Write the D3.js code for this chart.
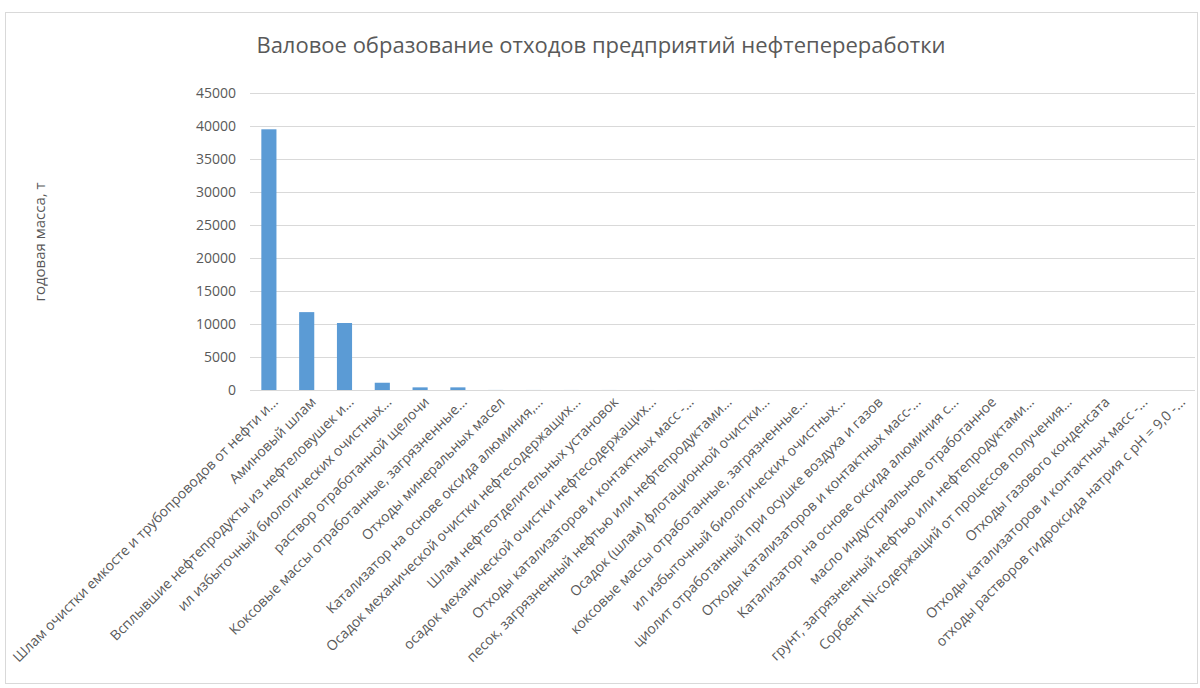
<!DOCTYPE html>
<html>
<head>
<meta charset="utf-8">
<script src="https://cdn.jsdelivr.net/npm/d3@7"></script>
<style>
    body { margin: 0; background: #fff; }
    text { font-family: "Open Sans", "Noto Sans", sans-serif; fill: #595959; }
</style>
</head>
<body>
<svg id="chart" width="1200" height="688"></svg>
<script>
// categories (labels as shown, truncated like the original)
var categories = [
    "Шлам очистки емкосте и трубопроводов от нефти и...",
    "Аминовый шлам",
    "Всплывшие нефтепродукты из нефтеловушек и...",
    "ил избыточный биологических очистных...",
    "раствор отработанной щелочи",
    "Коксовые массы отработанные, загрязненные...",
    "Отходы минеральных масел",
    "Катализатор на основе оксида алюминия,...",
    "Осадок механической очистки нефтесодержащих...",
    "Шлам нефтеотделительных установок",
    "осадок механической очистки нефтесодержащих...",
    "Отходы катализаторов и контактных масс -...",
    "песок, загрязненный нефтью или нефтепродуктами...",
    "Осадок (шлам) флотационной очистки...",
    "коксовые массы отработанные, загрязненные...",
    "ил избыточный биологических очистных...",
    "циолит отработанный при осушке воздуха и газов",
    "Отходы катализаторов и контактных масс-...",
    "Катализатор на основе оксида алюминия с...",
    "масло индустриальное отработанное",
    "грунт, загрязненный нефтью или нефтепродуктами...",
    "Сорбент Ni-содержащий от процессов получения...",
    "Отходы газового конденсата",
    "Отходы катализаторов и контактных масс -...",
    "отходы растворов гидроксида натрия с pH = 9,0 -..."
];
// годовая масса, т
var values = [39500, 11800, 10150, 1100, 400, 400, 8, 6, 5, 5, 4, 4, 3, 3, 2, 2, 2, 1, 1, 1, 1, 1, 1, 1, 1];
var yTicks = [0, 5000, 10000, 15000, 20000, 25000, 30000, 35000, 40000, 45000];

var svg = d3.select("#chart");
var plotLeft = 250, plotRight = 1195, plotTop = 93, plotBottom = 390;

// frame
svg.append("rect")
    .attr("x", 5.5).attr("y", 12.5)
    .attr("width", 1192).attr("height", 671)
    .attr("fill", "#fff").attr("stroke", "#d9d9d9");

var x = d3.scaleBand()
    .domain(d3.range(categories.length))
    .range([plotLeft, plotRight])
    .paddingInner(0.6)
    .paddingOuter(0.3);

var y = d3.scaleLinear()
    .domain([0, 45000])
    .range([plotBottom, plotTop]);

// grid lines
svg.append("g").selectAll("line")
    .data(yTicks)
    .enter().append("line")
    .attr("x1", plotLeft).attr("x2", plotRight)
    .attr("y1", function (d) { return Math.round(y(d)) + 0.5; })
    .attr("y2", function (d) { return Math.round(y(d)) + 0.5; })
    .attr("stroke", "#d9d9d9")
    .attr("stroke-width", 1);

// y axis labels
var yAxis = d3.axisLeft(y).tickValues(yTicks).tickSize(0).tickPadding(14).tickFormat(d3.format("d"));
var yg = svg.append("g").attr("transform", "translate(" + plotLeft + ",0)").call(yAxis);
yg.select(".domain").remove();
yg.selectAll("text")
    .style("font-size", "14px")
    .style("font-family", "'Open Sans', sans-serif")
    .attr("fill", "#595959");

// bars
svg.append("g").selectAll("rect")
    .data(values)
    .enter().append("rect")
    .attr("x", function (d, i) { return x(i); })
    .attr("y", function (d) { return y(d); })
    .attr("width", x.bandwidth())
    .attr("height", function (d) { return plotBottom - y(d); })
    .attr("fill", "#5b9bd5");

// x labels
svg.append("g").selectAll("text")
    .data(categories)
    .enter().append("text")
    .attr("transform", function (d, i) {
        var cx = x(i) + x.bandwidth() / 2 + 10;
        return "translate(" + cx + ",403) rotate(-45)";
    })
    .attr("text-anchor", "end")
    .style("font-size", "14px")
    .text(function (d) { return d; });

// title
svg.append("text")
    .attr("x", 601).attr("y", 53)
    .attr("text-anchor", "middle")
    .style("font-size", "22px")
    .text("Валовое образование отходов предприятий нефтепереработки");

// y axis title
svg.append("text")
    .attr("transform", "translate(45,242) rotate(-90)")
    .attr("text-anchor", "middle")
    .style("font-size", "15px")
    .text("годовая масса, т");
</script>
</body>
</html>
